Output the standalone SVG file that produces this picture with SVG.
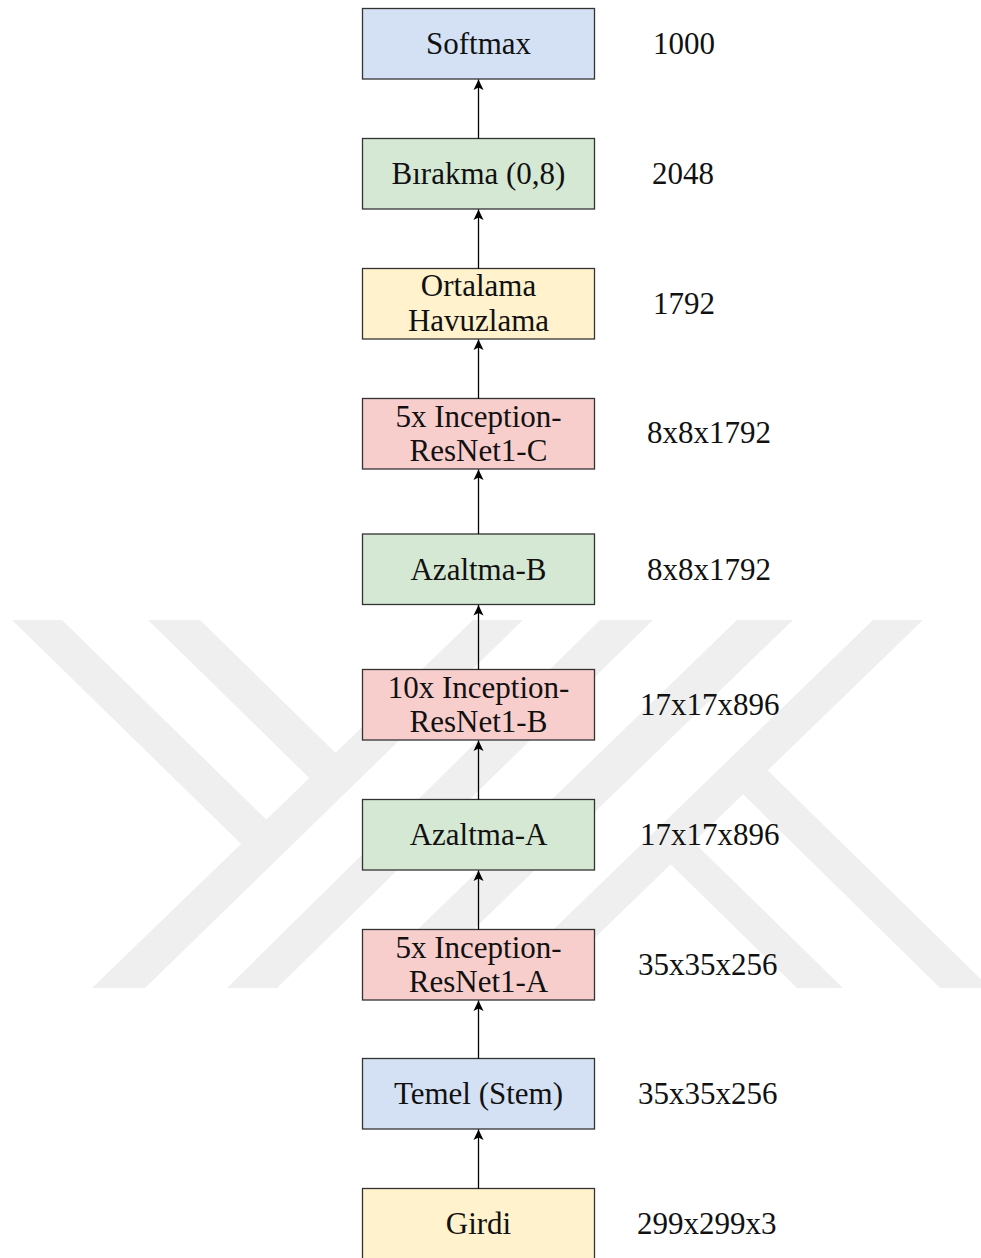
<svg xmlns="http://www.w3.org/2000/svg" width="981" height="1258" viewBox="0 0 981 1258">
  <style>
    .box { stroke: #333333; stroke-width: 1.3; }
    .blue { fill: #d4e1f5; }
    .green { fill: #d5e8d4; }
    .yellow { fill: #fff2cc; }
    .red { fill: #f8cecc; }
    .lbl { font-family: "Liberation Serif", "Times New Roman", serif; font-size: 31px; fill: #111111; }
    .mid { text-anchor: middle; }
    .edge { stroke: #000000; stroke-width: 1.3; fill: none; }
    .wm { fill: #efefef; }
  </style>
  <defs>
    <!-- classic notched arrowhead, tip at the line end -->
    <marker id="arrow" markerUnits="userSpaceOnUse" markerWidth="12" markerHeight="12" viewBox="-11 -6 12 12" refX="0" refY="0" orient="auto">
      <path d="M0,0 L-10.5,-5 L-8,0 L-10.5,5 Z" fill="#000000"/>
    </marker>
  </defs>
  <rect width="981" height="1258" fill="#ffffff"/>

  <!-- background emblem -->
  <g id="emblem">
    <polygon class="wm" points="92,988 145,988 523,620 473,620"/>
    <polygon class="wm" points="12,620 62,620 279,832 254,856.5"/>
    <polygon class="wm" points="148,620 200,620 348,765 322,790.5"/>
    <polygon class="wm" points="227,988 277,988 653,620 600,620"/>
    <polygon class="wm" points="873,620 923,620 543,988 493,988"/>
    <polygon class="wm" points="737,620 793,620 442,960 386,960"/>
    <polygon class="wm" points="940,988 990,988 755,758 731,782.4"/>
    <polygon class="wm" points="797,988 843,988 681,829.7 658,852.1"/>
  </g>

  <!-- layers, top to bottom -->
  <g id="softmax">
    <rect class="box blue" x="362.5" y="8.5" width="232" height="70.5"/>
    <text class="lbl mid" x="478.5" y="54">Softmax</text>
  </g>
  <g id="birakma">
    <rect class="box green" x="362.5" y="138.5" width="232" height="70.5"/>
    <text class="lbl mid" x="478.5" y="184">Bırakma (0,8)</text>
  </g>
  <g id="ortalama">
    <rect class="box yellow" x="362.5" y="268.5" width="232" height="70.5"/>
    <text class="lbl mid" x="478.5" y="295.5">Ortalama</text>
    <text class="lbl mid" x="478.5" y="330.5">Havuzlama</text>
  </g>
  <g id="inception-c">
    <rect class="box red" x="362.5" y="398.5" width="232" height="70.5"/>
    <text class="lbl mid" x="478.5" y="426.5">5x Inception-</text>
    <text class="lbl mid" x="478.5" y="460.5">ResNet1-C</text>
  </g>
  <g id="azaltma-b">
    <rect class="box green" x="362.5" y="534" width="232" height="70.5"/>
    <text class="lbl mid" x="478.5" y="579.5">Azaltma-B</text>
  </g>
  <g id="inception-b">
    <rect class="box red" x="362.5" y="669.5" width="232" height="70.5"/>
    <text class="lbl mid" x="478.5" y="697.5">10x Inception-</text>
    <text class="lbl mid" x="478.5" y="731.5">ResNet1-B</text>
  </g>
  <g id="azaltma-a">
    <rect class="box green" x="362.5" y="799.5" width="232" height="70.5"/>
    <text class="lbl mid" x="478.5" y="845">Azaltma-A</text>
  </g>
  <g id="inception-a">
    <rect class="box red" x="362.5" y="929.5" width="232" height="70.5"/>
    <text class="lbl mid" x="478.5" y="957.5">5x Inception-</text>
    <text class="lbl mid" x="478.5" y="991.5">ResNet1-A</text>
  </g>
  <g id="temel">
    <rect class="box blue" x="362.5" y="1058.5" width="232" height="70.5"/>
    <text class="lbl mid" x="478.5" y="1104">Temel (Stem)</text>
  </g>
  <g id="girdi">
    <rect class="box yellow" x="362.5" y="1188.5" width="232" height="75"/>
    <text class="lbl mid" x="478.5" y="1234">Girdi</text>
  </g>

  <!-- tensor sizes -->
  <g id="sizes">
    <text class="lbl" x="653" y="54">1000</text>
    <text class="lbl" x="652" y="184">2048</text>
    <text class="lbl" x="653" y="313.5">1792</text>
    <text class="lbl" x="647" y="443">8x8x1792</text>
    <text class="lbl" x="647" y="579.5">8x8x1792</text>
    <text class="lbl" x="640" y="714.5">17x17x896</text>
    <text class="lbl" x="640" y="845">17x17x896</text>
    <text class="lbl" x="638" y="974.5">35x35x256</text>
    <text class="lbl" x="638" y="1104">35x35x256</text>
    <text class="lbl" x="637" y="1234">299x299x3</text>
  </g>

  <!-- connectors -->
  <g id="connectors">
    <line class="edge" x1="478.5" y1="138.5" x2="478.5" y2="79.5" marker-end="url(#arrow)"/>
    <line class="edge" x1="478.5" y1="268.5" x2="478.5" y2="209.5" marker-end="url(#arrow)"/>
    <line class="edge" x1="478.5" y1="398.5" x2="478.5" y2="339.5" marker-end="url(#arrow)"/>
    <line class="edge" x1="478.5" y1="534" x2="478.5" y2="469.5" marker-end="url(#arrow)"/>
    <line class="edge" x1="478.5" y1="669.5" x2="478.5" y2="605" marker-end="url(#arrow)"/>
    <line class="edge" x1="478.5" y1="799.5" x2="478.5" y2="740.5" marker-end="url(#arrow)"/>
    <line class="edge" x1="478.5" y1="929.5" x2="478.5" y2="870.5" marker-end="url(#arrow)"/>
    <line class="edge" x1="478.5" y1="1058.5" x2="478.5" y2="1000.5" marker-end="url(#arrow)"/>
    <line class="edge" x1="478.5" y1="1188.5" x2="478.5" y2="1129.5" marker-end="url(#arrow)"/>
  </g>
</svg>
